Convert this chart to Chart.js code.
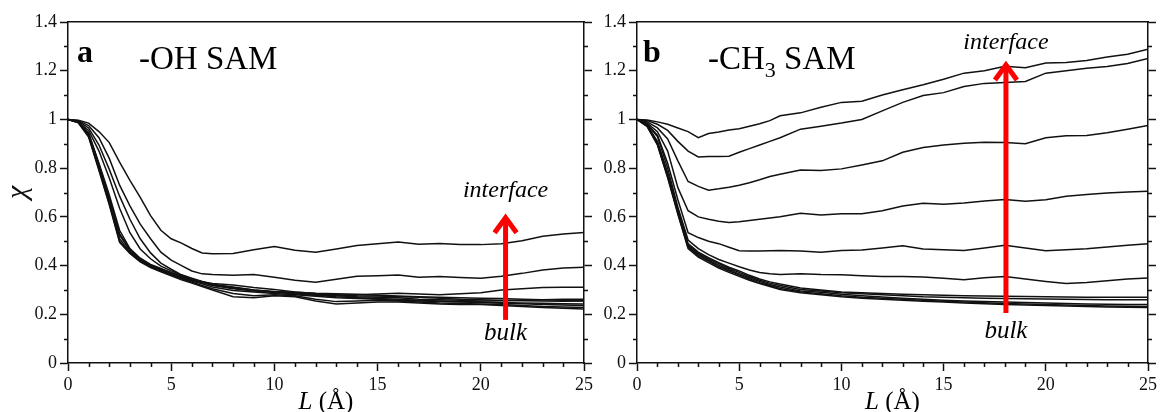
<!DOCTYPE html>
<html>
<head>
<meta charset="utf-8">
<script src="https://cdn.jsdelivr.net/npm/chart.js@4.4.1/dist/chart.umd.min.js"></script>
<style>
  body { margin: 0; background: #fff; }
  canvas { position: absolute; top: 0; }
  #panelA { left: 0; }
  #panelB { left: 596px; }
</style>
</head>
<body>
<canvas id="panelA" width="596" height="412"></canvas>
<canvas id="panelB" width="564" height="412"></canvas>
<script>
// L (Å) sampling shared by every curve
const lengths = [0,0.5,1,1.5,2,2.5,3,3.5,4,4.5,5,5.5,6,6.5,7,8,9,10,11,12,13,14,15,16,17,18,19,20,21,22,23,24,25];

// panel a: -OH SAM, from interface (ohA1) down to bulk
const ohA1 = [1.000,0.997,0.985,0.950,0.905,0.825,0.750,0.680,0.605,0.545,0.510,0.492,0.470,0.452,0.449,0.450,0.465,0.478,0.463,0.455,0.468,0.482,0.490,0.497,0.488,0.491,0.487,0.486,0.490,0.502,0.520,0.530,0.536];
const ohA2 = [1.000,0.995,0.975,0.925,0.840,0.730,0.645,0.570,0.510,0.455,0.422,0.400,0.378,0.366,0.363,0.360,0.363,0.352,0.340,0.332,0.344,0.356,0.358,0.361,0.352,0.355,0.351,0.348,0.356,0.368,0.382,0.390,0.393];
const ohA3 = [1.000,0.993,0.965,0.895,0.795,0.685,0.590,0.510,0.452,0.410,0.385,0.362,0.348,0.335,0.322,0.308,0.298,0.292,0.285,0.280,0.278,0.280,0.283,0.286,0.283,0.280,0.284,0.288,0.300,0.305,0.310,0.311,0.311];
const ohA4 = [1.000,0.990,0.955,0.870,0.760,0.635,0.535,0.468,0.428,0.398,0.378,0.360,0.345,0.333,0.322,0.312,0.300,0.292,0.288,0.282,0.276,0.272,0.270,0.268,0.262,0.260,0.258,0.255,0.256,0.258,0.260,0.262,0.262];
const ohA5 = [1.000,0.990,0.945,0.820,0.690,0.545,0.470,0.430,0.405,0.388,0.372,0.356,0.345,0.334,0.326,0.320,0.310,0.302,0.292,0.285,0.280,0.276,0.275,0.272,0.270,0.266,0.262,0.260,0.258,0.256,0.255,0.254,0.255];
const ohA6 = [1.000,0.990,0.940,0.810,0.675,0.525,0.462,0.425,0.400,0.383,0.368,0.352,0.340,0.330,0.318,0.305,0.296,0.290,0.284,0.278,0.272,0.268,0.265,0.262,0.258,0.255,0.252,0.250,0.248,0.246,0.245,0.243,0.242];
const ohA7 = [1.000,0.988,0.935,0.800,0.665,0.510,0.455,0.420,0.398,0.380,0.365,0.350,0.336,0.325,0.312,0.298,0.292,0.285,0.280,0.274,0.268,0.265,0.262,0.258,0.255,0.252,0.250,0.248,0.245,0.243,0.240,0.238,0.236];
const ohA8 = [1.000,0.987,0.930,0.795,0.655,0.500,0.452,0.418,0.395,0.377,0.362,0.346,0.332,0.318,0.305,0.285,0.276,0.280,0.276,0.262,0.252,0.255,0.258,0.255,0.250,0.246,0.244,0.242,0.240,0.236,0.232,0.230,0.228];
const ohA9 = [1.000,0.986,0.928,0.790,0.650,0.495,0.450,0.415,0.392,0.374,0.358,0.342,0.328,0.314,0.300,0.272,0.268,0.276,0.272,0.255,0.242,0.246,0.250,0.250,0.246,0.242,0.240,0.240,0.236,0.232,0.228,0.225,0.222];
const ohA10 = [1.000,0.990,0.940,0.815,0.680,0.530,0.465,0.428,0.402,0.386,0.370,0.355,0.343,0.333,0.322,0.310,0.300,0.294,0.290,0.286,0.284,0.282,0.278,0.275,0.272,0.270,0.268,0.266,0.265,0.262,0.260,0.258,0.256];

// panel b: -CH3 SAM
const chB1 = [1.000,0.998,0.990,0.980,0.965,0.950,0.925,0.942,0.948,0.957,0.962,0.972,0.982,0.995,1.015,1.027,1.050,1.070,1.075,1.100,1.122,1.142,1.165,1.190,1.200,1.218,1.212,1.232,1.234,1.242,1.256,1.268,1.288];
const chB2 = [1.000,0.995,0.980,0.955,0.910,0.870,0.846,0.848,0.848,0.849,0.865,0.880,0.895,0.910,0.925,0.960,0.972,0.985,1.000,1.035,1.070,1.098,1.110,1.135,1.148,1.152,1.156,1.190,1.200,1.210,1.217,1.230,1.250];
const chB3 = [1.000,0.990,0.965,0.920,0.830,0.745,0.725,0.709,0.715,0.722,0.730,0.740,0.752,0.766,0.775,0.792,0.790,0.797,0.813,0.830,0.865,0.885,0.895,0.902,0.906,0.905,0.900,0.925,0.933,0.934,0.945,0.960,0.975];
const chB4 = [1.000,0.985,0.950,0.870,0.720,0.625,0.600,0.590,0.582,0.577,0.580,0.585,0.590,0.595,0.600,0.615,0.608,0.613,0.613,0.625,0.645,0.656,0.652,0.657,0.665,0.671,0.664,0.670,0.685,0.692,0.698,0.702,0.705];
const chB5 = [1.000,0.980,0.935,0.820,0.670,0.535,0.515,0.500,0.490,0.475,0.461,0.460,0.460,0.461,0.462,0.460,0.455,0.462,0.464,0.472,0.481,0.468,0.465,0.462,0.472,0.483,0.472,0.461,0.465,0.469,0.476,0.483,0.490];
const chB6 = [1.000,0.978,0.930,0.800,0.640,0.505,0.470,0.445,0.425,0.410,0.395,0.382,0.372,0.366,0.363,0.366,0.363,0.362,0.358,0.355,0.355,0.353,0.348,0.342,0.350,0.355,0.345,0.335,0.326,0.330,0.338,0.345,0.349];
const chB7 = [1.000,0.975,0.910,0.780,0.630,0.490,0.455,0.432,0.412,0.393,0.378,0.360,0.345,0.333,0.324,0.308,0.300,0.292,0.288,0.285,0.282,0.280,0.278,0.276,0.275,0.274,0.273,0.272,0.271,0.270,0.270,0.270,0.270];
const chB8 = [1.000,0.975,0.905,0.775,0.625,0.485,0.450,0.428,0.408,0.388,0.372,0.355,0.340,0.328,0.318,0.302,0.296,0.288,0.284,0.280,0.276,0.272,0.270,0.268,0.266,0.265,0.264,0.263,0.262,0.261,0.260,0.260,0.260];
const chB9 = [1.000,0.973,0.900,0.770,0.620,0.480,0.445,0.422,0.402,0.383,0.366,0.350,0.335,0.322,0.312,0.296,0.290,0.282,0.276,0.271,0.266,0.262,0.258,0.255,0.252,0.250,0.248,0.246,0.244,0.242,0.241,0.240,0.240];
const chB10 = [1.000,0.972,0.898,0.765,0.615,0.475,0.440,0.418,0.396,0.378,0.362,0.345,0.330,0.318,0.306,0.292,0.284,0.276,0.270,0.266,0.262,0.258,0.254,0.250,0.247,0.244,0.242,0.240,0.238,0.236,0.234,0.233,0.232];
const chB11 = [1.000,0.970,0.895,0.760,0.610,0.470,0.435,0.412,0.390,0.372,0.356,0.340,0.326,0.314,0.302,0.288,0.280,0.272,0.266,0.262,0.258,0.254,0.250,0.246,0.243,0.240,0.238,0.236,0.234,0.232,0.230,0.229,0.228];

const seriesA = [ohA1, ohA2, ohA3, ohA4, ohA5, ohA6, ohA7, ohA8, ohA9, ohA10];
const seriesB = [chB1, chB2, chB3, chB4, chB5, chB6, chB7, chB8, chB9, chB10, chB11];

const xTicksMinor = [1,2,3,4,6,7,8,9,11,12,13,14,16,17,18,19,21,22,23,24];
const yTicksMinor = [0.1,0.3,0.5,0.7,0.9,1.1,1.3];

const SERIF = "'Liberation Serif', 'Times New Roman', serif";
Chart.defaults.font.family = SERIF;
Chart.defaults.color = '#111';

// draws minor ticks, panel letter, title and the red bulk->interface arrow
function decorPlugin(cfg) {
  return {
    id: 'decor',
    afterDraw(chart) {
      const ctx = chart.ctx;
      const x = chart.scales.x, y = chart.scales.y;
      const area = chart.chartArea;
      ctx.save();
      ctx.strokeStyle = '#111';
      ctx.lineWidth = 1.5;
      ctx.beginPath();
      xTicksMinor.forEach(v => {
        const px = Math.round(x.getPixelForValue(v)) + 0.5;
        ctx.moveTo(px, area.bottom); ctx.lineTo(px, area.bottom + 4);
      });
      yTicksMinor.forEach(v => {
        const py = Math.round(y.getPixelForValue(v)) + 0.5;
        ctx.moveTo(area.left, py); ctx.lineTo(area.left - 4, py);
        ctx.moveTo(area.right, py); ctx.lineTo(area.right + 4, py);
      });
      ctx.stroke();

      // panel letter + title
      ctx.fillStyle = '#000';
      ctx.textBaseline = 'alphabetic';
      ctx.textAlign = 'left';
      ctx.font = 'bold 32px ' + SERIF;
      ctx.fillText(cfg.letter, area.left + cfg.letterDx, area.top + 40);
      let tx = area.left + 71;
      const ty = area.top + 47;
      cfg.title.forEach(part => {
        ctx.font = (part.sub ? '22px ' : '33px ') + SERIF;
        ctx.fillText(part.text, tx, ty + (part.sub ? 8 : 0));
        tx += ctx.measureText(part.text).width;
      });

      // x axis title: italic L + (Å)
      ctx.font = 'italic 25px ' + SERIF;
      const wL = ctx.measureText('L').width;
      ctx.font = '25px ' + SERIF;
      const wR = ctx.measureText(' (Å)').width;
      const cx = (area.left + area.right) / 2 - (wL + wR) / 2;
      ctx.font = 'italic 25px ' + SERIF;
      ctx.fillText('L', cx, 409);
      ctx.font = '25px ' + SERIF;
      ctx.fillText(' (Å)', cx + wL, 409);

      // arrow
      const ax = x.getPixelForValue(cfg.arrowL);
      const yLo = y.getPixelForValue(cfg.arrowFrom);
      const yHi = y.getPixelForValue(cfg.arrowTo);
      ctx.strokeStyle = '#ff0000';
      ctx.lineWidth = 5;
      ctx.lineJoin = 'miter';
      ctx.beginPath();
      ctx.moveTo(ax, yLo); ctx.lineTo(ax, yHi + 3);
      ctx.stroke();
      ctx.beginPath();
      ctx.moveTo(ax - 11, yHi + 18); ctx.lineTo(ax, yHi + 3); ctx.lineTo(ax + 11, yHi + 18);
      ctx.stroke();

      ctx.fillStyle = '#000';
      ctx.textAlign = 'center';
      ctx.font = 'italic 24px ' + SERIF;
      ctx.fillText('interface', x.getPixelForValue(cfg.arrowL), y.getPixelForValue(cfg.topText));
      ctx.font = 'italic 25px ' + SERIF;
      ctx.fillText('bulk', x.getPixelForValue(cfg.arrowL), y.getPixelForValue(cfg.bottomText));
      ctx.restore();
    }
  };
}

function makePanel(id, series, cfg) {
  const axisBorder = { color: '#111', width: 1.5 };
  return new Chart(document.getElementById(id), {
    type: 'line',
    data: {
      datasets: series.map(s => ({
        data: lengths.map((L, i) => ({ x: L, y: s[i] })),
        borderColor: '#111',
        borderWidth: 1.5,
        pointRadius: 0,
        tension: 0,
        fill: false
      }))
    },
    options: {
      responsive: false,
      animation: false,
      layout: { padding: 0 },
      plugins: { legend: { display: false }, tooltip: { enabled: false } },
      scales: {
        x: {
          type: 'linear', position: 'bottom', min: 0, max: 25,
          ticks: { stepSize: 5, font: { size: 18 }, padding: 3, maxRotation: 0 },
          grid: { drawOnChartArea: false, tickLength: 8, tickColor: '#111', tickWidth: 1.5 },
          border: axisBorder,
          afterFit: s => { s.height = 49; }
        },
        xTop: {
          type: 'linear', position: 'top', min: 0, max: 25,
          ticks: { display: false },
          grid: { display: false },
          border: axisBorder,
          afterFit: s => { s.height = 22; }
        },
        y: {
          position: 'left', min: 0, max: 1.4,
          ticks: { stepSize: 0.2, font: { size: 18 }, padding: 3, callback: v => String(+v.toFixed(1)) },
          grid: { drawOnChartArea: false, tickLength: 8, tickColor: '#111', tickWidth: 1.5 },
          border: axisBorder,
          title: { display: cfg.yTitle, text: 'χ', font: { size: 30, style: 'italic' }, padding: { top: 0, bottom: 0 } },
          afterFit: s => { s.width = cfg.leftWidth; }
        },
        yRight: {
          position: 'right', min: 0, max: 1.4,
          ticks: { display: false, stepSize: 0.2 },
          grid: { drawOnChartArea: false, tickLength: 8, tickColor: '#111', tickWidth: 1.5 },
          border: axisBorder,
          afterFit: s => { s.width = 12; }
        }
      }
    },
    plugins: [decorPlugin(cfg)]
  });
}

makePanel('panelA', seriesA, {
  yTitle: true, leftWidth: 68, letter: 'a', letterDx: 9,
  title: [{ text: '-OH SAM' }],
  arrowL: 21.2, arrowFrom: 0.177, arrowTo: 0.609, topText: 0.68, bottomText: 0.095
});
makePanel('panelB', seriesB, {
  yTitle: false, leftWidth: 41, letter: 'b', letterDx: 6,
  title: [{ text: '-CH' }, { text: '3', sub: true }, { text: ' SAM' }],
  arrowL: 18.05, arrowFrom: 0.205, arrowTo: 1.236, topText: 1.288, bottomText: 0.103
});
</script>
</body>
</html>
